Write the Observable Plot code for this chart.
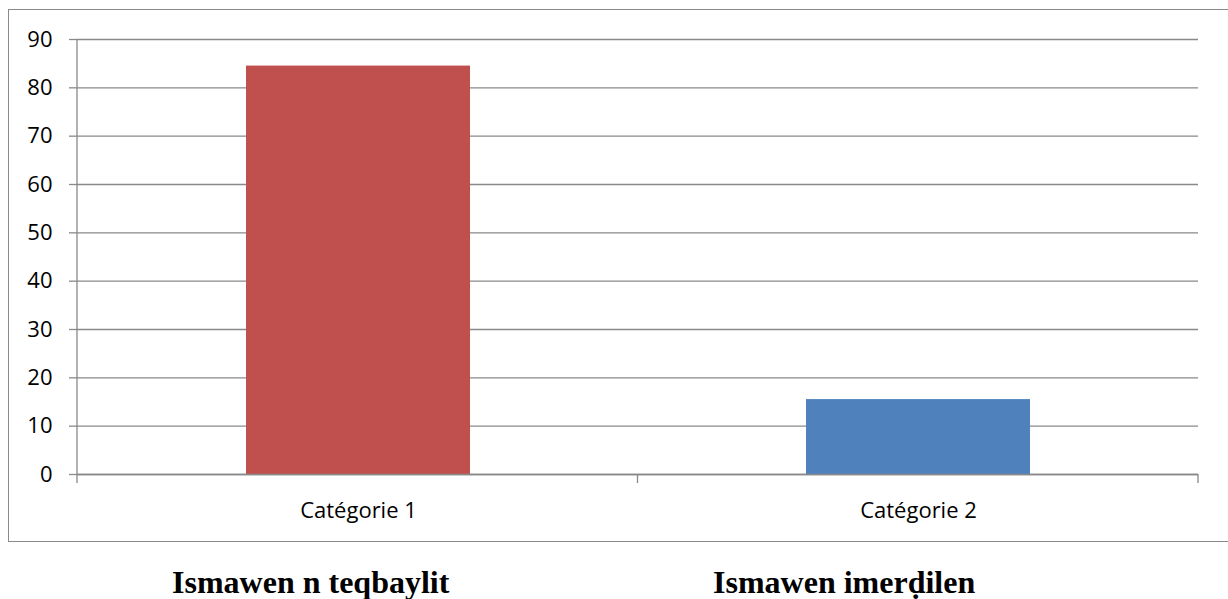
<!DOCTYPE html>
<html><head><meta charset="utf-8">
<script src="https://cdn.jsdelivr.net/npm/d3@7"></script>
<script src="https://cdn.jsdelivr.net/npm/@observablehq/plot@0.6"></script>
<style>
html,body{margin:0;padding:0;overflow:hidden;background:#fff;width:1228px;height:599px}
#frame{position:absolute;left:8px;top:9px;width:1240px;height:533px;border:1px solid #8a8a8a;border-right:none;box-sizing:border-box}
#chart{position:absolute;left:0;top:0}
.cap{position:absolute;font-family:"Liberation Serif","Times New Roman",serif;font-weight:bold;font-size:32px;line-height:32px;white-space:nowrap;color:#000}
</style></head>
<body>
<div id="frame"></div>
<div id="chart"></div>
<div class="cap" id="cap0" style="left:172px;top:566px"></div>
<div class="cap" id="cap1" style="left:713px;top:566px"></div>
<script>
const categories = ["Catégorie 1", "Catégorie 2"];
const values = [84.5, 15.5];
const barColors = ["#C0504D", "#4F81BD"];
const yTicks = [0, 10, 20, 30, 40, 50, 60, 70, 80, 90];
const captions = ["Ismawen n teqbaylit", "Ismawen imerḍilen"];

const data = categories.map((c, i) => ({category: c, value: values[i], color: barColors[i]}));
const gray = "#898989";

const plot = Plot.plot({
  width: 1228,
  height: 541,
  marginLeft: 77,
  marginRight: 30,
  marginTop: 39,
  marginBottom: 67,
  style: {fontFamily: '"Open Sans", sans-serif', fontSize: "22px", color: "#000", background: "transparent"},
  x: {domain: categories, paddingInner: 0.6, paddingOuter: 0.3, axis: null, label: null},
  y: {domain: [0, 90], axis: null, label: null},
  marks: [
    Plot.gridY(yTicks, {stroke: gray, strokeOpacity: 1, strokeWidth: 1.3}),
    Plot.axisY(yTicks, {tickSize: 8, tickPadding: 17, stroke: gray, strokeWidth: 1.3, fill: "#000", fontSize: 22, label: null, tickFormat: d => String(d)}),
    Plot.barY(data, {x: "category", y: "value", fill: "color"}),
    Plot.ruleY([0], {stroke: gray, strokeWidth: 1.3}),
    Plot.axisX(categories, {tickSize: 0, tickPadding: 28, fill: "#000", fontSize: 22, label: null})
  ]
});

// category boundary ticks and vertical axis line, from the x and y scales
const xs = plot.scale("x"), ys = plot.scale("y");
const [r0, r1] = xs.range;
const n = categories.length;
const bounds = d3.range(n + 1).map(i => r0 + i * (r1 - r0) / n);
const y0 = ys.apply(0), yTop = ys.apply(d3.max(yTicks));
const g = d3.select(plot).append("g").attr("stroke", gray).attr("stroke-width", 1.3);
bounds.forEach((b, i) => {
  g.append("line").attr("x1", b).attr("x2", b)
    .attr("y1", i === 0 ? yTop : y0).attr("y2", y0 + 9);
});

document.getElementById("chart").appendChild(plot);
captions.forEach((t, i) => { document.getElementById("cap" + i).textContent = t; });
</script>
</body></html>
